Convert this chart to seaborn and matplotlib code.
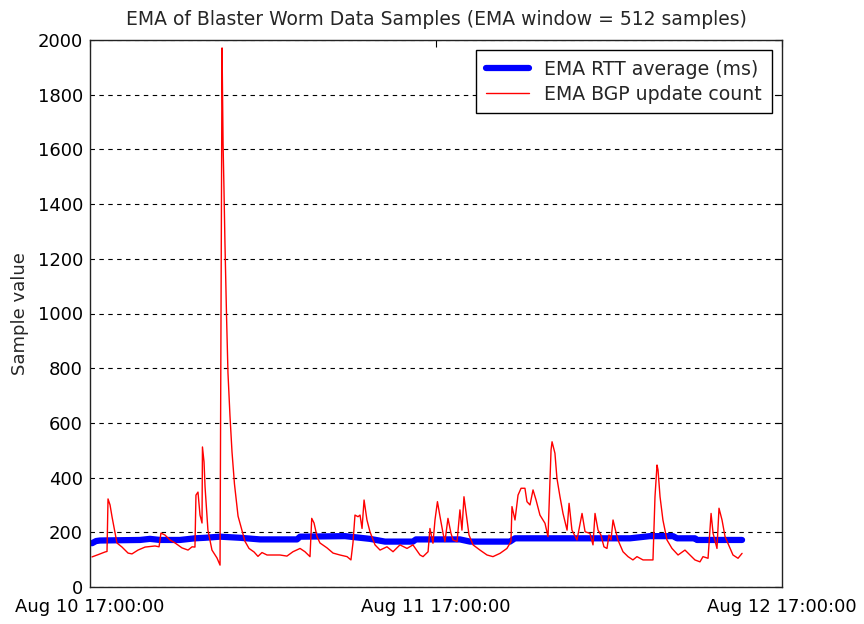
import matplotlib
matplotlib.use("Agg")
import matplotlib.pyplot as plt
import seaborn as sns
import pandas as pd

# ---- data (hours after Aug 10 17:00:00) ----
bgp_hours = [0.14, 0.55, 1.04, 1.18, 1.25, 1.39, 1.53, 1.87, 2.22, 2.64, 2.91, 3.33, 3.82,
             4.51, 4.79, 4.92, 5.20, 5.55, 5.90, 6.38, 6.80, 7.08, 7.28, 7.35, 7.49, 7.63,
             7.77, 7.80, 7.91, 7.98, 8.18, 8.46, 8.81, 9.02, 9.16, 9.23, 9.29, 9.36, 9.47,
             9.57, 9.71, 9.85, 10.02, 10.27, 10.54, 10.75, 11.03, 11.38, 11.65, 11.93, 12.28,
             12.69, 13.18, 13.66, 14.08, 14.57, 14.91, 15.26, 15.38, 15.54, 15.75, 15.95,
             16.44, 16.86, 17.34, 17.83, 18.10, 18.24, 18.38, 18.59, 18.73, 18.87, 19.01,
             19.21, 19.42, 19.77, 20.12, 20.60, 21.02, 21.50, 21.99, 22.40, 22.89, 23.10,
             23.45, 23.58, 23.79, 23.93, 24.10, 24.28, 24.49, 24.62, 24.83, 25.04, 25.18,
             25.46, 25.66, 25.80, 25.94, 26.15, 26.29, 26.57, 27.05, 27.54, 27.95, 28.44,
             28.92, 29.20, 29.27, 29.48, 29.69, 29.90, 30.17, 30.31, 30.52, 30.73, 30.94,
             31.21, 31.56, 31.77, 31.98, 32.05, 32.25, 32.39, 32.60, 32.81, 33.09, 33.23,
             33.43, 33.78, 34.13, 34.34, 34.68, 34.89, 35.03, 35.24, 35.44, 35.65, 35.86,
             36.00, 36.14, 36.28, 36.42, 36.62, 36.97, 37.32, 37.66, 37.94, 38.36, 39.05,
             39.19, 39.33, 39.40, 39.54, 39.74, 40.02, 40.37, 40.79, 41.27, 41.62, 41.96,
             42.31, 42.52, 42.87, 43.08, 43.22, 43.49, 43.63, 43.84, 44.05, 44.25, 44.60,
             44.95, 45.23]
bgp_values = [110, 118, 128, 130, 322, 300, 256, 161, 146, 124, 121, 135, 146,
              150, 147, 197, 190, 172, 161, 143, 135, 147, 146, 336, 347, 263,
              234, 512, 457, 366, 208, 135, 106, 80, 1971, 1620, 1464, 1260, 992,
              783, 625, 494, 377, 259, 207, 167, 141, 128, 112, 126, 117,
              117, 117, 113, 129, 141, 129, 111, 251, 234, 184, 161,
              143, 124, 117, 111, 99, 161, 263, 257, 263, 214, 318,
              245, 202, 154, 135, 147, 129, 154, 141, 154, 117, 111,
              129, 214, 160, 245, 312, 257, 196, 166, 251, 196, 172,
              166, 282, 208, 330, 245, 190, 154, 135, 117, 111, 123,
              141, 166, 294, 245, 336, 361, 361, 312, 300, 355, 318,
              263, 233, 184, 501, 531, 489, 397, 330, 269, 208, 306,
              208, 172, 269, 202, 196, 154, 269, 208, 190, 147, 141,
              190, 172, 245, 214, 172, 129, 111, 99, 111, 99, 99,
              330, 446, 428, 330, 245, 172, 141, 117, 135, 117, 99,
              92, 111, 105, 269, 196, 141, 288, 245, 184, 160, 117,
              105, 123]

rtt_hours = [0.14, 0.42, 0.69, 3.47, 4.16, 4.86, 6.24, 7.28, 7.98, 9.02, 10.40, 11.79,
             14.36, 14.57, 17.69, 19.42, 20.46, 22.40, 22.61, 25.66, 26.36, 29.13, 29.48,
             37.46, 38.84, 40.44, 40.72, 41.96, 42.10, 45.23]
rtt_values = [160, 168, 170, 172, 176, 172, 172, 178, 180, 184, 180, 174,
              174, 184, 186, 176, 166, 166, 174, 174, 166, 166, 178,
              178, 186, 186, 178, 178, 172, 172]

x_tick_labels = ["Aug 10 17:00:00", "Aug 11 17:00:00", "Aug 12 17:00:00"]
y_ticks = [0, 200, 400, 600, 800, 1000, 1200, 1400, 1600, 1800, 2000]

start = pd.Timestamp("2003-08-10 17:00:00")
rtt_df = pd.DataFrame({"time": start + pd.to_timedelta(rtt_hours, unit="h"),
                       "value": rtt_values})
bgp_df = pd.DataFrame({"time": start + pd.to_timedelta(bgp_hours, unit="h"),
                       "value": bgp_values})

sns.set_style("white")
plt.rcParams["font.family"] = ["DejaVu Sans"]
fs = 13

fig = plt.figure(figsize=(8.64, 6.24), dpi=100)
ax = fig.add_axes([90 / 864, 37 / 624, 692 / 864, 547 / 624])

sns.lineplot(data=rtt_df, x="time", y="value", ax=ax, color="#0000ff",
             linewidth=4.5, estimator=None, label="EMA RTT average (ms)")
sns.lineplot(data=bgp_df, x="time", y="value", ax=ax, color="#ff0000",
             linewidth=1.0, estimator=None, label="EMA BGP update count")

x_ticks = [start, start + pd.Timedelta(days=1), start + pd.Timedelta(days=2)]
ax.set_xlim(x_ticks[0], x_ticks[-1])
ax.set_xticks(x_ticks)
ax.set_xticklabels(x_tick_labels, fontsize=fs)
ax.set_ylim(0, 2000)
ax.set_yticks(y_ticks)
ax.set_yticklabels([str(v) for v in y_ticks], fontsize=fs)

ax.yaxis.grid(True, linestyle=(0, (4, 4)), color="black", linewidth=0.8)
ax.xaxis.grid(False)
ax.tick_params(direction="in", top=True, right=True, length=5, width=0.8,
               colors="black")
ax.tick_params(axis="y", pad=5)
ax.tick_params(axis="x", pad=8)
for s in ax.spines.values():
    s.set_color("#222222")
    s.set_linewidth(1.0)

ax.set_xlabel("")
ax.set_ylabel("Sample value", fontsize=fs, labelpad=6)
ax.set_title("EMA of Blaster Worm Data Samples (EMA window = 512 samples)",
             fontsize=13.5, pad=11)

leg = ax.legend(loc="upper right", fontsize=13.6, frameon=True, fancybox=False,
                edgecolor="black", framealpha=1, borderaxespad=0.55,
                handlelength=2.3, handletextpad=0.8, borderpad=0.5,
                labelspacing=0.3)
leg.get_frame().set_linewidth(1.0)

fig.savefig("out.png", dpi=100, facecolor="white")
